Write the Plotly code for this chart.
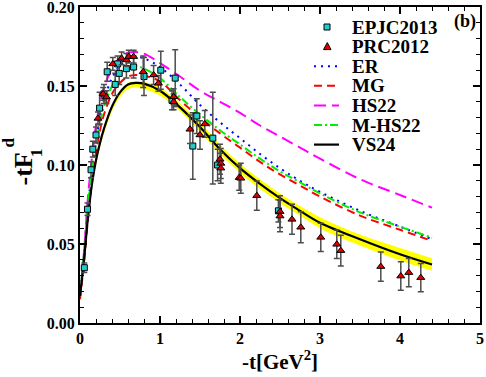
import plotly.graph_objects as go

# ---- data ----
t_curve = [0, 0.05, 0.1, 0.15, 0.2, 0.25, 0.3, 0.4, 0.5, 0.6, 0.7, 0.8, 1.0, 1.25, 1.5,
           1.75, 2.0, 2.25, 2.5, 2.75, 3.0, 3.5, 4.0, 4.4]

er = [0.017, 0.043, 0.074, 0.097, 0.115, 0.130, 0.141, 0.155, 0.163, 0.167, 0.1685, 0.1675,
      0.162, 0.151, 0.138, 0.127, 0.117, 0.107, 0.098, 0.090, 0.083, 0.071, 0.061, 0.053]
mg = [0.015, 0.038, 0.066, 0.090, 0.108, 0.122, 0.132, 0.145, 0.152, 0.156, 0.157, 0.1565,
      0.153, 0.141, 0.130, 0.120, 0.111, 0.102, 0.094, 0.087, 0.080, 0.068, 0.059, 0.052]
hs22 = [0.017, 0.045, 0.080, 0.105, 0.125, 0.139, 0.149, 0.161, 0.168, 0.171, 0.1715, 0.1705,
        0.1645, 0.156, 0.147, 0.140, 0.133, 0.125, 0.118, 0.111, 0.104, 0.091, 0.081, 0.073]
mhs22 = [0.017, 0.044, 0.075, 0.097, 0.114, 0.127, 0.137, 0.150, 0.158, 0.162, 0.1625, 0.161,
         0.155, 0.143, 0.132, 0.122, 0.113, 0.104, 0.096, 0.089, 0.082, 0.070, 0.061, 0.054]
vs24 = [0.017, 0.040, 0.067, 0.088, 0.103, 0.114, 0.123, 0.137, 0.146, 0.151, 0.152, 0.1515,
        0.147, 0.1365, 0.124, 0.110, 0.098, 0.088, 0.079, 0.071, 0.0635, 0.053, 0.0435, 0.037]
vs24_hi = [0.018, 0.041, 0.068, 0.089, 0.104, 0.115, 0.124, 0.138, 0.147, 0.152, 0.153, 0.1525,
           0.149, 0.139, 0.127, 0.113, 0.101, 0.091, 0.082, 0.074, 0.067, 0.056, 0.0475, 0.041]
vs24_lo = [0.016, 0.039, 0.065, 0.086, 0.100, 0.111, 0.120, 0.134, 0.143, 0.148, 0.149, 0.148,
           0.144, 0.134, 0.121, 0.107, 0.095, 0.085, 0.076, 0.068, 0.060, 0.049, 0.0395, 0.033]

epjc_t = [0.054, 0.094, 0.138, 0.160, 0.200, 0.245, 0.300, 0.340, 0.440, 0.470, 0.490, 0.580,
          0.670, 0.800, 1.01, 1.15, 1.19, 1.41, 1.46, 1.66, 1.72, 2.48]
epjc_f = [0.035, 0.072, 0.097, 0.110, 0.119, 0.136, 0.145, 0.159, 0.151, 0.164, 0.158, 0.161,
          0.162, 0.156, 0.160, 0.141, 0.155, 0.112, 0.131, 0.117, 0.100, 0.071]
epjc_err = [0.003, 0.004, 0.005, 0.005, 0.005, 0.010, 0.006, 0.006, 0.007, 0.005, 0.007, 0.006,
            0.007, 0.012, 0.012, 0.006, 0.018, 0.021, 0.011, 0.029, 0.010, 0.007]

prc_t = [0.225, 0.29, 0.33, 0.41, 0.52, 0.58, 0.61, 0.67, 0.79, 0.92, 0.98, 1.17, 1.17, 1.375,
         1.5, 1.56, 1.75, 1.76, 1.76, 1.99, 2.01, 2.21, 2.5, 2.5, 2.65, 2.76, 3.01, 3.21, 3.26,
         3.76, 4.01, 4.11, 4.26]
prc_f = [0.1295, 0.145, 0.143, 0.164, 0.1675, 0.1665, 0.1686, 0.1686, 0.159, 0.157, 0.1517,
         0.1432, 0.140, 0.1226, 0.119, 0.126, 0.1036, 0.101, 0.098, 0.092, 0.0916, 0.0806,
         0.0705, 0.0677, 0.0656, 0.0606, 0.0542, 0.0498, 0.0458, 0.0357, 0.0297, 0.0319, 0.0287]
prc_err = [0.004, 0.004, 0.004, 0.004, 0.004, 0.004, 0.004, 0.004, 0.010, 0.006, 0.005, 0.005,
           0.005, 0.009, 0.009, 0.0085, 0.0095, 0.0095, 0.0095, 0.008, 0.0095, 0.0093, 0.010,
           0.010, 0.0095, 0.0098, 0.009, 0.009, 0.0097, 0.0092, 0.009, 0.009, 0.009]

legend_names = ['EPJC2013', 'PRC2012', 'ER', 'MG', 'HS22', 'M-HS22', 'VS24']

FONT = "Liberation Serif"
CYAN, RED_M = '#22cccc', '#dd0000'
line_styles = {
    'ER': dict(color='#0000ff', width=2, dash='2px,5px'),
    'MG': dict(color='#ff0000', width=2, dash='8px,5px'),
    'HS22': dict(color='#ff00ff', width=2, dash='12px,6px'),
    'M-HS22': dict(color='#00ee00', width=2, dash='8px,3px,2px,3px'),
    'VS24': dict(color='black', width=2.2),
}

fig = go.Figure()

# yellow uncertainty band of VS24
fig.add_trace(go.Scatter(x=t_curve, y=vs24_hi, mode='lines', line=dict(width=0, shape='spline'),
                         showlegend=False, hoverinfo='skip'))
fig.add_trace(go.Scatter(x=t_curve, y=vs24_lo, mode='lines', line=dict(width=0, shape='spline'),
                         fill='tonexty', fillcolor='#ffff00', showlegend=False, hoverinfo='skip'))

for name, ys in [('ER', er), ('MG', mg), ('HS22', hs22), ('M-HS22', mhs22), ('VS24', vs24)]:
    fig.add_trace(go.Scatter(x=t_curve, y=ys, mode='lines', name=name, showlegend=False,
                             line=dict(shape='spline', **line_styles[name])))

fig.add_trace(go.Scatter(x=epjc_t, y=epjc_f, mode='markers', name='EPJC2013', showlegend=False,
                         marker=dict(symbol='square', size=6, color=CYAN,
                                     line=dict(color='black', width=1)),
                         error_y=dict(type='data', array=epjc_err, color='#4d4d4d',
                                      thickness=1.5, width=3)))
fig.add_trace(go.Scatter(x=prc_t, y=prc_f, mode='markers', name='PRC2012', showlegend=False,
                         marker=dict(symbol='triangle-up', size=7, color=RED_M,
                                     line=dict(color='black', width=1)),
                         error_y=dict(type='data', array=prc_err, color='#4d4d4d',
                                      thickness=1.5, width=3)))

axis_common = dict(
    showline=True, linecolor='black', linewidth=2, mirror='allticks',
    ticks='inside', ticklen=7, tickwidth=1.5, tickcolor='black',
    showgrid=False, zeroline=False, automargin=False, ticklabeloverflow='allow',
    tickfont=dict(family=FONT, size=16, color='black', weight='bold'),
)

fig.update_xaxes(range=[0, 5], dtick=1, tick0=0,
                 minor=dict(dtick=0.2, ticks='inside', ticklen=4, tickcolor='black', tickwidth=1.2),
                 title=dict(text='-t[GeV<sup>2</sup>]', standoff=8,
                            font=dict(family=FONT, size=21, color='black', weight='bold')),
                 **axis_common)
fig.update_yaxes(range=[0, 0.2], dtick=0.05, tick0=0, tickformat='.2f',
                 minor=dict(dtick=0.01, ticks='inside', ticklen=4, tickcolor='black', tickwidth=1.2),
                 **axis_common)

# pixel -> paper helpers for the decorations
px = lambda v: (v - 80) / 400
py = lambda v: (323 - v) / 316

# y-axis title with stacked sub/superscript
ann_font = dict(family=FONT, color='black', weight='bold')
for txt, cx, cy, size in [('-tF', 22.5, 169, 26), ('1', 36, 153, 17), ('d', 7.5, 143, 17)]:
    fig.add_annotation(text=txt, x=px(cx), y=py(cy), xref='paper', yref='paper', textangle=-90,
                       xanchor='center', yanchor='middle', showarrow=False,
                       font=dict(size=size, **ann_font))
fig.add_annotation(text='(b)', x=px(465), y=py(21.5), xref='paper', yref='paper',
                   xanchor='center', yanchor='middle', showarrow=False,
                   font=dict(size=18, **ann_font))

# legend drawn by hand (compact row spacing like the original)
for i, name in enumerate(legend_names):
    yrow = 27 + 19.6 * i
    fig.add_annotation(text=name, x=px(350), y=py(yrow), xref='paper', yref='paper',
                       xanchor='left', yanchor='middle', showarrow=False,
                       font=dict(size=19, **ann_font))
    if name == 'EPJC2013':
        fig.add_shape(type='rect', xref='paper', yref='paper',
                      x0=px(324), x1=px(330), y0=py(yrow + 3), y1=py(yrow - 3),
                      fillcolor=CYAN, line=dict(color='black', width=1))
    elif name == 'PRC2012':
        fig.add_shape(type='path', xref='paper', yref='paper',
                      path=f'M {px(323.5)} {py(yrow + 3)} L {px(331)} {py(yrow + 3)} '
                           f'L {px(327.3)} {py(yrow - 4)} Z',
                      fillcolor=RED_M, line=dict(color='black', width=1))
    else:
        fig.add_shape(type='line', xref='paper', yref='paper',
                      x0=px(314), x1=px(339), y0=py(yrow), y1=py(yrow),
                      line=line_styles[name])

fig.update_layout(
    width=486, height=377,
    margin=dict(l=80, r=6, t=7, b=54, autoexpand=False),
    plot_bgcolor='white', paper_bgcolor='white',
    showlegend=False,
)

# the page body has a default 8px margin; drop it so the figure sits at the window corner
fig.write_html("out.html", config={'displayModeBar': False},
               post_script="document.body.style.margin='0';")
